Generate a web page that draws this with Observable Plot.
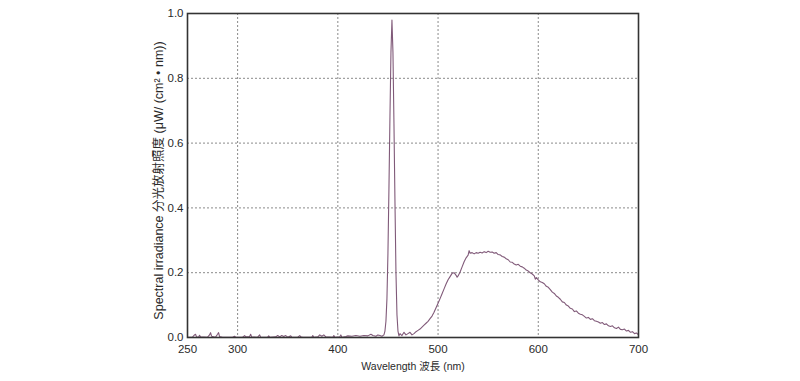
<!DOCTYPE html>
<html>
<head>
<meta charset="utf-8">
<script src="https://cdn.jsdelivr.net/npm/d3@7"></script>
<script src="https://cdn.jsdelivr.net/npm/@observablehq/plot@0.6"></script>
<style>
  html, body { margin: 0; padding: 0; background: #fff; }
  #chart svg { display: block; }
</style>
</head>
<body>
<div id="chart"></div>
<script>
const xTicks = [250, 300, 400, 500, 600, 700];
const yTicks = [0, 0.2, 0.4, 0.6, 0.8, 1.0];
const xGrid = [300, 400, 500, 600];
const yGrid = [0.2, 0.4, 0.6, 0.8];
const xLabel = "Wavelength 波長 (nm)";
const yLabel = "Spectral irradiance 分光放射照度 (μW/ (cm² • nm))";

const wavelength = [
  250,255,257,258,259,261,262,263,270,272,273,274,278,280,281,282,285,295,297,298,
  305,307,308,312,313,314,320,322,323,330,331,332,338,340,342,344,346,348,350,353,
  354,360,362,363,365,374,375,376,380,382,384,386,388,395,396,397,402,403,404,408,
  410,414,418,422,426,430,433,435,438,440,442,444,446,
  447,448,449,450,451,452,453,454,455,456,457,458,459,460,461,
  462,464,466,468,470,472,474,476,478,480,482,484,486,488,490,492,494,496,498,500,
  502,504,506,508,510,512,514,516,518,519,520,522,524,526,528,530,531,532,534,536,
  538,540,542,544,546,548,550,552,554,556,558,560,562,564,566,568,570,572,574,576,
  578,580,582,584,586,588,590,592,594,596,597,598,600,602,604,606,608,610,612,614,
  616,618,620,622,624,626,628,630,632,634,636,638,640,642,644,646,648,650,652,654,
  656,658,660,662,664,666,668,670,672,674,676,678,680,682,684,686,688,690,692,694,
  696,698,700
];
const irradiance = [
  0.001,0.001,0.008,0.010,0.002,0.001,0.007,0.002,0.001,0.008,0.015,0.004,0.001,0.010,0.015,0.003,0.001,0.001,0.004,0.001,
  0.001,0.006,0.002,0.003,0.010,0.002,0.001,0.008,0.001,0.001,0.005,0.001,0.002,0.006,0.002,0.006,0.003,0.006,0.001,0.005,
  0.001,0.001,0.006,0.002,0.001,0.001,0.006,0.001,0.002,0.008,0.004,0.008,0.002,0.001,0.006,0.001,0.002,0.008,0.001,0.003,
  0.005,0.004,0.006,0.004,0.006,0.005,0.010,0.006,0.004,0.008,0.006,0.004,0.008,
  0.020,0.050,0.120,0.260,0.460,0.680,0.880,0.980,0.880,0.660,0.420,0.200,0.070,0.020,0.005,
  0.012,0.006,0.016,0.008,0.012,0.016,0.008,0.012,0.018,0.022,0.026,0.032,0.038,0.044,0.050,0.058,0.066,0.078,0.092,0.106,
  0.120,0.135,0.150,0.165,0.178,0.188,0.198,0.200,0.192,0.186,0.190,0.202,0.218,0.234,0.246,0.254,0.268,0.260,0.262,0.258,
  0.262,0.260,0.263,0.261,0.265,0.262,0.266,0.263,0.264,0.260,0.262,0.256,0.255,0.250,0.248,0.243,0.240,0.233,0.232,0.227,
  0.224,0.226,0.220,0.218,0.214,0.208,0.205,0.200,0.196,0.190,0.180,0.185,0.178,0.172,0.170,0.166,0.158,0.155,0.148,0.140,
  0.136,0.128,0.124,0.118,0.110,0.108,0.100,0.097,0.090,0.088,0.080,0.082,0.075,0.072,0.070,0.065,0.060,0.062,0.056,0.058,
  0.052,0.050,0.048,0.044,0.046,0.040,0.042,0.036,0.034,0.036,0.030,0.028,0.032,0.025,0.024,0.026,0.020,0.022,0.016,0.018,
  0.012,0.014,0.008
];
const data = wavelength.map((w, i) => ({w, v: irradiance[i]}));

const fontFamily = "'Liberation Sans', Arial, 'Noto Sans CJK JP', sans-serif";

const chart = Plot.plot({
  width: 800,
  height: 381,
  marginLeft: 187,
  marginRight: 162,
  marginTop: 13,
  marginBottom: 44,
  style: {fontFamily, fontSize: "11px", color: "#2a2a2a", background: "#fff"},
  x: {domain: [250, 700]},
  y: {domain: [0, 1]},
  marks: [
    Plot.ruleX(xGrid, {stroke: "#8a8a8a", strokeWidth: 1, strokeDasharray: "2,2"}),
    Plot.ruleY(yGrid, {stroke: "#8a8a8a", strokeWidth: 1, strokeDasharray: "2,2"}),
    Plot.axisX({ticks: xTicks, tickSize: 0, tickPadding: 7, fontSize: 11.5,
      label: null}),
    Plot.axisX({ticks: [], tickSize: 0, fontSize: 10.5,
      label: xLabel, labelAnchor: "center", labelArrow: "none", labelOffset: 32}),
    Plot.axisY({ticks: yTicks, tickSize: 0, tickPadding: 4, fontSize: 11.5,
      tickFormat: d3.format(".1f"), label: null}),
    Plot.text([yLabel], {
      frameAnchor: "left", dx: -29, dy: 5, rotate: -90,
      fontSize: 12.5, fill: "#2a2a2a", textAnchor: "middle"
    }),
    Plot.line(data, {x: "w", y: "v", stroke: "#805a79", strokeWidth: 1.1, curve: "linear"}),
    Plot.frame({stroke: "#333", strokeWidth: 1.6})
  ]
});
document.getElementById("chart").appendChild(chart);
</script>
</body>
</html>
